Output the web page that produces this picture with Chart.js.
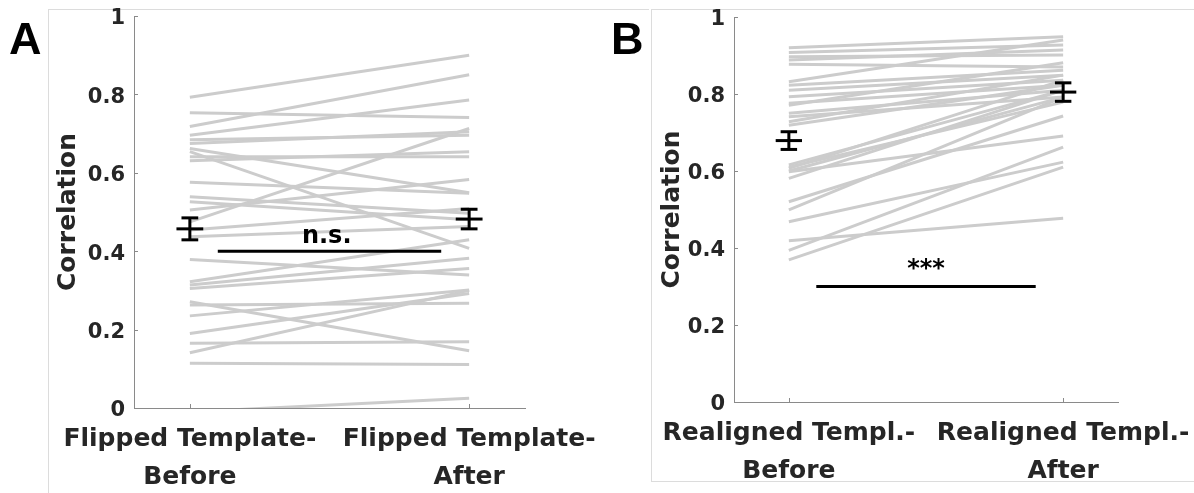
<!DOCTYPE html>
<html>
<head>
<meta charset="utf-8">
<script src="https://cdn.jsdelivr.net/npm/chart.js@4.4.1/dist/chart.umd.min.js"></script>
<style>
  body { margin: 0; background: #fff; width: 1194px; height: 493px; overflow: hidden; position: relative; }
  canvas { position: absolute; top: 0; }
  #chartA { left: 0; }
  #chartB { left: 597px; }
  .frame { position: absolute; border: 1px solid #dcdcdc; }
  .letter { position: absolute; font: bold 45px "Liberation Sans", Arial, sans-serif; color: #000; }
</style>
</head>
<body>
<div class="frame" style="left:48px; top:9px; width:600px; height:490px; border-right:none;"></div>
<div class="frame" style="left:651px; top:9px; width:560px; height:471px;"></div>
<canvas id="chartA" width="597" height="493"></canvas>
<canvas id="chartB" width="597" height="493"></canvas>
<div class="letter" style="left:9px; top:13px;">A</div>
<div class="letter" style="left:611px; top:13px;">B</div>
<script>
// x positions of the two conditions
const conditions = [1, 2];
const yTickValues = [0, 0.2, 0.4, 0.6, 0.8, 1];

// Panel A - flipped template, one value per subject
const labelsA = [['Flipped Template-', 'Before'], ['Flipped Template-', 'After']];
const beforeA = [0.793, 0.753, 0.718, 0.696, 0.684, 0.675, 0.662, 0.654, 0.641, 0.631,
                 0.576, 0.539, 0.526, 0.505, 0.475, 0.454, 0.437, 0.379, 0.322, 0.314,
                 0.305, 0.271, 0.263, 0.235, 0.190, 0.165, 0.141, 0.114, -0.01];
const afterA  = [0.900, 0.741, 0.850, 0.786, 0.696, 0.705, 0.549, 0.407, 0.641, 0.654,
                 0.548, 0.497, 0.480, 0.583, 0.713, 0.509, 0.463, 0.339, 0.429, 0.382,
                 0.356, 0.146, 0.267, 0.301, 0.292, 0.169, 0.300, 0.111, 0.025];
const meanA = [0.457, 0.482];
const semA  = [0.028, 0.025];
const sigTextA = 'n.s.';

// Panel B - realigned template
const labelsB = [['Realigned Templ.-', 'Before'], ['Realigned Templ.-', 'After']];
const beforeB = [0.920, 0.908, 0.897, 0.888, 0.877, 0.832, 0.823, 0.810, 0.793, 0.776,
                 0.771, 0.750, 0.741, 0.728, 0.719, 0.616, 0.610, 0.607, 0.600, 0.598,
                 0.581, 0.520, 0.499, 0.468, 0.419, 0.394, 0.369];
const afterB  = [0.949, 0.927, 0.901, 0.914, 0.870, 0.940, 0.862, 0.849, 0.836, 0.823,
                 0.881, 0.810, 0.792, 0.849, 0.823, 0.810, 0.779, 0.836, 0.792, 0.691,
                 0.810, 0.743, 0.792, 0.623, 0.477, 0.662, 0.610];
const meanB = [0.679, 0.805];
const semB  = [0.023, 0.024];
const sigTextB = '***';

// significance bar: [x start, x end, y], text anchor: [x, y]
const sigBarA = [1.1, 1.9, 0.4];
const sigLabelA = [1.49, 0.421];
const sigBarB = [1.1, 1.9, 0.3];
const sigLabelB = [1.5, 0.327];

const GREY = '#cccccc';
const AXIS = '#8a8a8a';
const TEXT = '#262626';
const CAP_W = 0.03;
const MEAN_W = 0.048;

// grey subject lines go underneath (higher order = drawn first)
function subjectDatasets(before, after) {
  return before.map((b, i) => ({
    data: [{x: conditions[0], y: b}, {x: conditions[1], y: after[i]}],
    borderColor: GREY,
    borderWidth: 3,
    pointRadius: 0,
    order: 2
  }));
}

// one small dataset per error bar piece (caps, stem, mean tick)
function errorBarDatasets(means, sems) {
  const sets = [];
  const piece = pts => sets.push({
    data: pts, borderColor: '#000', borderWidth: 3, pointRadius: 0, order: 0
  });
  means.forEach((m, i) => {
    const x = conditions[i], e = sems[i];
    piece([{x: x - CAP_W, y: m + e}, {x: x + CAP_W, y: m + e}]);
    piece([{x: x, y: m + e}, {x: x, y: m - e}]);
    piece([{x: x - CAP_W, y: m - e}, {x: x + CAP_W, y: m - e}]);
    piece([{x: x - MEAN_W, y: m}, {x: x + MEAN_W, y: m}]);
  });
  return sets;
}

function sigDataset(bar) {
  return {
    data: [{x: bar[0], y: bar[2]}, {x: bar[1], y: bar[2]}],
    borderColor: '#000', borderWidth: 3, pointRadius: 0, order: 0
  };
}

// MATLAB style ticks pointing into the plot
const inwardTicks = {
  id: 'inwardTicks',
  afterDatasetsDraw(chart) {
    const {ctx, chartArea, scales: {x, y}} = chart;
    ctx.save();
    ctx.strokeStyle = AXIS;
    ctx.lineWidth = 1;
    ctx.beginPath();
    y.ticks.forEach(t => {
      const py = Math.round(y.getPixelForValue(t.value)) + 0.5;
      ctx.moveTo(chartArea.left, py);
      ctx.lineTo(chartArea.left + 4, py);
    });
    x.ticks.forEach(t => {
      const px = Math.round(x.getPixelForValue(t.value)) + 0.5;
      ctx.moveTo(px, chartArea.bottom);
      ctx.lineTo(px, chartArea.bottom - 4);
    });
    ctx.stroke();
    ctx.restore();
  }
};

const sigText = {
  id: 'sigText',
  afterDatasetsDraw(chart, args, opts) {
    const {ctx, scales: {x, y}} = chart;
    ctx.save();
    ctx.fillStyle = '#000';
    ctx.font = 'bold 24px "DejaVu Sans"';
    ctx.textAlign = 'center';
    ctx.textBaseline = 'alphabetic';
    ctx.fillText(opts.text, x.getPixelForValue(opts.at[0]), y.getPixelForValue(opts.at[1]));
    ctx.restore();
  }
};

function makePanel(id, o) {
  return new Chart(document.getElementById(id), {
    type: 'line',
    data: {
      datasets: [
        ...subjectDatasets(o.before, o.after),
        ...errorBarDatasets(o.mean, o.sem),
        sigDataset(o.bar)
      ]
    },
    plugins: [inwardTicks, sigText],
    options: {
      responsive: false,
      animation: false,
      layout: { padding: o.padding },
      plugins: {
        legend: { display: false },
        tooltip: { enabled: false },
        sigText: { text: o.sig, at: o.sigAt }
      },
      scales: {
        x: {
          type: 'linear',
          min: 0.8,
          max: 2.2,
          afterFit: s => { s.height = o.xHeight; s.paddingLeft = 0; s.paddingRight = 0; },
          afterBuildTicks: s => { s.ticks = conditions.map(v => ({value: v})); },
          grid: { display: true, drawOnChartArea: false, drawTicks: false },
          border: { display: true, color: AXIS, width: 1 },
          ticks: {
            padding: 13,
            color: TEXT,
            maxRotation: 0,
            autoSkip: false,
            font: { family: 'DejaVu Sans', size: 25, weight: 'bold', lineHeight: 1.5 },
            callback: v => o.labels[conditions.indexOf(v)]
          }
        },
        y: {
          min: 0,
          max: 1,
          afterFit: s => { s.width = o.yWidth; s.paddingTop = 0; s.paddingBottom = 0; },
          afterBuildTicks: s => { s.ticks = yTickValues.map(v => ({value: v})); },
          grid: { display: true, drawOnChartArea: false, drawTicks: false },
          border: { display: true, color: AXIS, width: 1 },
          ticks: {
            padding: 9,
            labelOffset: 3,
            color: TEXT,
            font: { family: 'DejaVu Sans', size: 21, weight: 'bold' },
            callback: v => String(v)
          },
          title: {
            display: true,
            text: 'Correlation',
            color: TEXT,
            padding: { top: o.titlePad, bottom: 0 },
            font: { family: 'DejaVu Sans', size: 25, weight: 'bold', lineHeight: 1.2 }
          }
        }
      }
    }
  });
}

makePanel('chartA', {
  before: beforeA, after: afterA, mean: meanA, sem: semA,
  bar: sigBarA, sig: sigTextA, sigAt: sigLabelA, labels: labelsA,
  padding: { left: 0, right: 72, top: 16, bottom: 0 },
  yWidth: 134, xHeight: 85, titlePad: 53
});

makePanel('chartB', {
  before: beforeB, after: afterB, mean: meanB, sem: semB,
  bar: sigBarB, sig: sigTextB, sigAt: sigLabelB, labels: labelsB,
  padding: { left: 0, right: 76, top: 17, bottom: 0 },
  yWidth: 137, xHeight: 91, titlePad: 60
});
</script>
</body>
</html>
